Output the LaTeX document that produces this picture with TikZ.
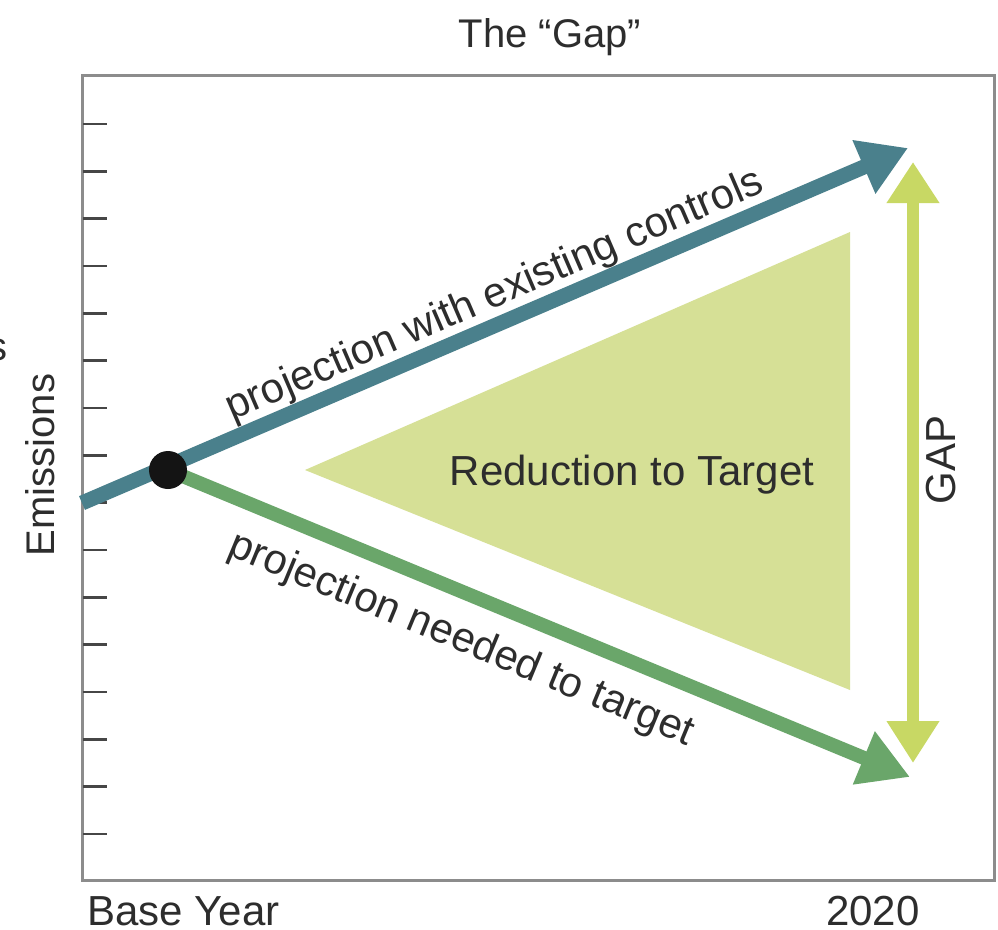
\documentclass[tikz,border=0pt]{standalone}
\usepackage{fontspec}
\setmainfont{Liberation Sans}
\usetikzlibrary{arrows.meta}
\definecolor{tealc}{RGB}{74,128,140}
\definecolor{greenc}{RGB}{106,166,106}
\definecolor{tric}{RGB}{214,224,150}
\definecolor{gapc}{RGB}{200,216,100}
\definecolor{framec}{RGB}{140,140,140}
\definecolor{tickc}{RGB}{70,70,70}
\definecolor{textc}{RGB}{45,45,45}
\begin{document}
\begin{tikzpicture}[x=1pt,y=-1pt,
  txt/.style={text=textc, font=\fontsize{40}{48}\selectfont, inner sep=0pt},
  bigtxt/.style={txt, font=\fontsize{42}{50}\selectfont}]
\useasboundingbox (0,0) rectangle (998,929);
\fill[white] (0,0) rectangle (998,929);
% frame and ticks
\draw[framec, line width=3pt] (82,75) rectangle (994,880);
\foreach \i in {0,...,15}
  \draw[tickc, line width=2.5pt] (83,{124+47.33*\i}) -- (107,{124+47.33*\i});
% reduction triangle
\fill[tric] (305,470) -- (850,232) -- (850,690) -- cycle;
% coordinates
\coordinate (bstart) at (82,503);
\coordinate (btip) at (908,148);
\coordinate (dotc) at (168,470);
\coordinate (gtip) at (910,777);
\coordinate (gaptop) at (913,162);
\coordinate (gapbot) at (913,763);
% arrows
\draw[tealc, line width=15pt, -{Triangle[length=48pt,width=55pt]}] (bstart) -- (btip);
\draw[greenc, line width=14pt, -{Triangle[length=50pt,width=54pt]}] (dotc) -- (gtip);
\draw[gapc, line width=12pt, {Triangle[length=41pt,width=50pt]}-{Triangle[length=42pt,width=50pt]}] (gaptop) -- (gapbot);
\node[circle, fill=black!92, minimum size=38pt, inner sep=0pt] (dot) at (dotc) {};
% labels
\node[bigtxt, rotate=23.3] (lblue) at (495,296) {projection with existing controls};
\node[bigtxt, rotate=-22.5] (lgreen) at (461,640) {projection needed to target};
\node[bigtxt] (red) at (632,475) {Reduction to Target};
\node[bigtxt, rotate=90] (gap) at (941,460) {GAP};
\node[txt, rotate=90] (emis) at (40,465) {Emissions};
\node[bigtxt, anchor=base west] (base) at (87,925) {Base Year};
\node[bigtxt, anchor=base] (year) at (873,925) {2020};
\node[txt, anchor=base] (title) at (550,47) {The “Gap”};
\node[txt, anchor=base east] (cut) at (8,360) {s};
\end{tikzpicture}
\end{document}
